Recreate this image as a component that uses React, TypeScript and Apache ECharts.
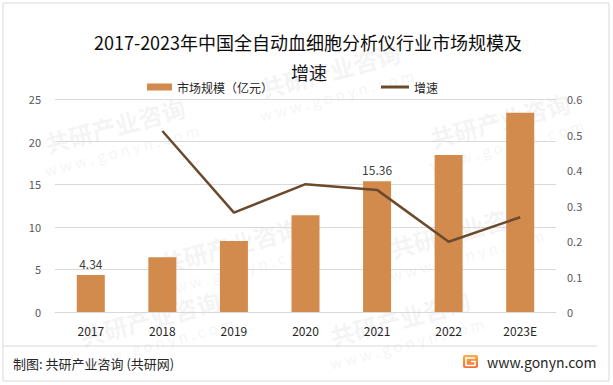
import React, { useEffect, useRef } from 'react';
import * as echarts from 'echarts';

const categories = ['2017', '2018', '2019', '2020', '2021', '2022', '2023E'];
const marketSize = [4.34, 6.43, 8.32, 11.37, 15.36, 18.43, 23.38];
const growth = [null, 0.51, 0.28, 0.36, 0.344, 0.198, 0.267];
const labeledIndices = [0, 4];
const titleLine1 = '2017-2023年中国全自动血细胞分析仪行业市场规模及';
const titleLine2 = '增速';
const barName = '市场规模（亿元）';
const lineName = '增速';
const footerLeft = '制图: 共研产业咨询 (共研网)';
const footerRight = 'www.gonyn.com';

const FONT = '"Noto Sans CJK SC", "Noto Sans", sans-serif';
const BAR_COLOR = '#D38B4D';
const LINE_COLOR = '#6B4A2E';

function watermark(x: number, y: number) {
  return {
    type: 'group',
    x,
    y,
    rotation: 0.26,
    silent: true,
    children: [
      {
        type: 'text',
        x: 0,
        y: 0,
        style: {
          text: '共研产业咨询',
          font: `bold 24px ${FONT}`,
          fill: 'rgba(190,190,190,0.16)',
          textAlign: 'center',
          textVerticalAlign: 'middle',
        },
      },
      {
        type: 'text',
        x: 0,
        y: 26,
        style: {
          text: 'w w w . g o n y n . c o m',
          font: `15px ${FONT}`,
          fill: 'rgba(190,190,190,0.16)',
          textAlign: 'center',
          textVerticalAlign: 'middle',
        },
      },
    ],
  };
}

export default function App() {
  const ref = useRef<HTMLDivElement>(null);
  useEffect(() => {
    document.body.style.margin = '0';
    if (!ref.current) return;
    const chart = echarts.init(ref.current, undefined, { renderer: 'svg' });
    const barData = marketSize.map((v, i) => ({
      value: v,
      label: { show: labeledIndices.includes(i) },
    }));
    chart.setOption({
      animation: false,
      backgroundColor: '#ffffff',
      textStyle: { fontFamily: FONT },
      grid: { left: 55, right: 57, top: 99, bottom: 73, containLabel: false },
      legend: [
        {
          data: [{ name: barName, icon: 'rect' }],
          left: 142,
          top: 76,
          itemWidth: 25,
          itemHeight: 7,
          textStyle: { fontSize: 12, color: '#262626', fontFamily: FONT },
          selectedMode: false,
        },
        {
          data: [{ name: lineName, icon: 'rect' }],
          left: 376,
          top: 76,
          itemWidth: 28,
          itemHeight: 3,
          textStyle: { fontSize: 12, color: '#262626', fontFamily: FONT },
          selectedMode: false,
        },
      ],
      xAxis: {
        type: 'category',
        data: categories,
        axisLine: { lineStyle: { color: '#d9d9d9', width: 1 } },
        axisTick: { show: false },
        axisLabel: { fontSize: 12, color: '#262626', margin: 12, fontFamily: FONT },
      },
      yAxis: [
        {
          type: 'value',
          min: 0,
          max: 25,
          interval: 5,
          axisLine: { show: false },
          axisTick: { show: false },
          splitLine: { lineStyle: { color: '#d9d9d9', width: 1 } },
          axisLabel: { fontSize: 11, color: '#595959', margin: 14, fontFamily: FONT },
        },
        {
          type: 'value',
          min: 0,
          max: 0.6,
          interval: 0.1,
          axisLine: { show: false },
          axisTick: { show: false },
          splitLine: { show: false },
          axisLabel: { fontSize: 11, color: '#595959', margin: 11, fontFamily: FONT },
        },
      ],
      series: [
        {
          name: barName,
          type: 'bar',
          data: barData,
          barWidth: 28,
          itemStyle: { color: BAR_COLOR },
          label: {
            position: 'top',
            distance: 6,
            fontSize: 12,
            color: '#404040',
            fontFamily: FONT,
          },
          z: 2,
        },
        {
          name: lineName,
          type: 'line',
          yAxisIndex: 1,
          data: growth,
          symbol: 'none',
          connectNulls: false,
          itemStyle: { color: LINE_COLOR },
          lineStyle: { color: LINE_COLOR, width: 2.5 },
          z: 3,
        },
      ],
      graphic: [
        {
          type: 'rect',
          shape: { x: 3, y: 3, width: 606, height: 378 },
          style: { fill: 'none', stroke: '#d9d9d9', lineWidth: 1 },
          silent: true,
        },
        {
          type: 'text',
          x: 308,
          y: 42,
          style: {
            text: titleLine1,
            font: `18px ${FONT}`,
            fill: '#0d0d0d',
            textAlign: 'center',
            textVerticalAlign: 'middle',
          },
        },
        {
          type: 'text',
          x: 309,
          y: 72,
          style: {
            text: titleLine2,
            font: `18px ${FONT}`,
            fill: '#0d0d0d',
            textAlign: 'center',
            textVerticalAlign: 'middle',
          },
        },
        {
          type: 'line',
          shape: { x1: 3, y1: 346, x2: 597, y2: 346 },
          style: { stroke: '#d9d9d9', lineWidth: 1 },
          silent: true,
        },
        {
          type: 'text',
          x: 13,
          y: 363,
          style: {
            text: footerLeft,
            font: `13px ${FONT}`,
            fill: '#262626',
            textAlign: 'left',
            textVerticalAlign: 'middle',
          },
        },
        {
          type: 'rect',
          shape: { x: 463, y: 355, width: 15, height: 13, r: 2 },
          style: {
            fill: new echarts.graphic.LinearGradient(0, 0, 0, 1, [
              { offset: 0, color: '#fbb040' },
              { offset: 1, color: '#f26b3a' },
            ]),
          },
          silent: true,
        },
        {
          type: 'polyline',
          shape: {
            points: [
              [475, 358],
              [466, 358],
              [466, 365.5],
              [475, 365.5],
              [475, 361.5],
              [471, 361.5],
            ],
          },
          style: { stroke: '#ffffff', lineWidth: 1.6, fill: 'none' },
          silent: true,
        },
        {
          type: 'text',
          x: 487,
          y: 362,
          style: {
            text: footerRight,
            font: `14px ${FONT}`,
            fill: '#262626',
            textAlign: 'left',
            textVerticalAlign: 'middle',
          },
        },
        watermark(115, 125),
        watermark(330, 70),
        watermark(500, 120),
        watermark(230, 245),
        watermark(460, 230),
        watermark(150, 318),
        watermark(400, 318),
      ],
    });
    return () => chart.dispose();
  }, []);
  return <div ref={ref} style={{ width: 613, height: 385 }} />;
}
